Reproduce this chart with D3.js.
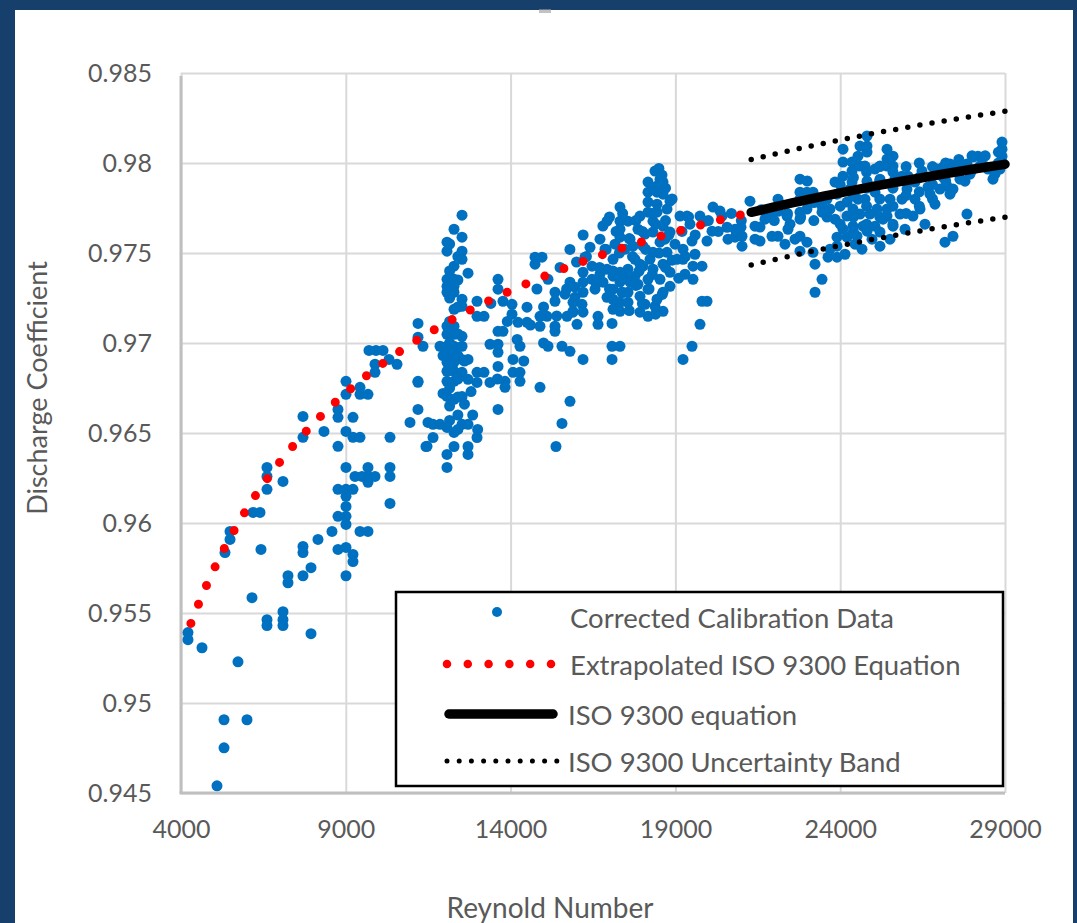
<!DOCTYPE html>
<html>
<head>
<meta charset="utf-8">
<script src="https://cdn.jsdelivr.net/npm/d3@7"></script>
<style>
  html, body { margin: 0; padding: 0; background: #173f6c; }
  svg { display: block; }
  text { font-family: Lato, "Open Sans", sans-serif; fill: #595959; }
</style>
</head>
<body>
<svg id="chart" width="1077" height="923"></svg>
<script>
// Axis ticks
const xTicks = [4000, 9000, 14000, 19000, 24000, 29000];
const yTicks = [0.945, 0.95, 0.955, 0.96, 0.965, 0.97, 0.975, 0.98, 0.985];

const xTitle = "Reynold Number";
const yTitle = "Discharge Coefficient";
const seriesNames = [
  "Corrected Calibration Data",
  "Extrapolated ISO 9300 Equation",
  "ISO 9300 equation",
  "ISO 9300 Uncertainty Band"
];

// Corrected calibration data: [Reynolds number, discharge coefficient]
const calibration = [
  [4212,0.95391],[4212,0.95352],[4637,0.95307],[5092,0.9454],[5305,0.94907],[6002,0.94907],[5305,0.94751],
  [5729,0.95229],[5335,0.95836],[5487,0.95909],[5487,0.95953],[6154,0.95585],[6184,0.96059],[6397,0.96059],
  [6427,0.95853],[6609,0.96309],[6609,0.96259],[6609,0.96187],[7094,0.96231],[6609,0.95463],[6609,0.9543],
  [7094,0.95507],[7094,0.95463],[7094,0.9543],[7246,0.95707],[7246,0.95668],[7701,0.95836],[7701,0.95707],
  [7944,0.95752],[7944,0.95385],[8763,0.95853],[9006,0.95864],[9006,0.95707],[9218,0.95825],[9218,0.95786],
  [7701,0.9587],[8156,0.95909],[8581,0.95953],[8763,0.96037],[9006,0.96037],[9006,0.95992],[9006,0.96092],
  [9006,0.96148],[8763,0.96187],[9006,0.96187],[9218,0.96187],[9006,0.96309],[9279,0.96259],[9491,0.96259],
  [9673,0.96309],[9673,0.96259],[9886,0.96259],[9673,0.96226],[10341,0.96309],[10341,0.96259],[10341,0.96109],
  [9431,0.95953],[9673,0.95953],[7701,0.96592],[7701,0.96476],[8338,0.96509],[8763,0.96631],[8763,0.96587],
  [8763,0.96426],[9006,0.96787],[9006,0.96715],[9006,0.96509],[9218,0.96587],[9218,0.96476],[9431,0.96476],
  [9431,0.96754],[9431,0.96715],[9673,0.96715],[9886,0.96882],[9886,0.96837],[10553,0.96882],[11190,0.96782],
  [11190,0.96631],[10948,0.96559],[11494,0.96559],[11464,0.96426],[10341,0.96476],[9704,0.96959],[9916,0.96959],
  [10129,0.96959],[10311,0.96909],
  [12526,0.9771],[12283,0.97632],[12070,0.9756],[12526,0.97588],[12070,0.9751],[12526,0.9751],[12283,0.97427],
  [12526,0.97465],[12708,0.97388],[12070,0.97354],[12283,0.97354],[12070,0.97315],[12283,0.97315],[12070,0.97282],
  [12283,0.97282],[12526,0.97243],[12283,0.97187],[12526,0.97204],[12981,0.97232],[12981,0.97148],[13193,0.97148],
  [12070,0.97093],[12283,0.97093],[12070,0.97048],[12283,0.97048],[12526,0.97037],[11858,0.96982],[12070,0.96982],
  [12283,0.96982],[12526,0.96982],[12070,0.96937],[12283,0.96937],[12070,0.96893],[12283,0.96893],[12526,0.96909],
  [12708,0.96909],[12070,0.96843],[12283,0.96843],[12526,0.96837],[12981,0.96837],[13193,0.96837],[12070,0.96787],
  [12283,0.96787],[12708,0.96798],[12981,0.96781],[13375,0.96781],[12070,0.96703],[12526,0.96703],[12283,0.96687],
  [11646,0.96548],[11858,0.96548],[12526,0.96548],[12708,0.96548],[12070,0.96531],[12283,0.96503],[12981,0.96475],
  [11646,0.96475],[11433,0.96425],[12283,0.96425],[12708,0.96425],[12070,0.96381],[12708,0.96381],[12070,0.96309],
  [11191,0.97109],[11191,0.97032],[11342,0.96982],[11191,0.96787],
  [12150,0.9740],[12400,0.9735],[12150,0.9725],[12400,0.9720],[12150,0.9712],[12400,0.9705],[12150,0.9700],
  [12400,0.9693],[12150,0.9688],[12400,0.9680],[12150,0.9675],[12400,0.9670],[12150,0.9665],[12400,0.9660],
  [12150,0.9657],[12400,0.9652],[12600,0.9666],[12600,0.9690],[11950,0.9693],[11950,0.9672],[12800,0.9673],
  [12850,0.9660],[13000,0.9652],[12150,0.9755],[12400,0.9748],
  [13618,0.97354],[13618,0.97299],[13769,0.97232],[14043,0.97215],[14043,0.9716],[14225,0.97115],[13769,0.97065],
  [13618,0.97065],[13375,0.96993],[13618,0.96993],[13618,0.96948],[14073,0.96909],[13618,0.9687],[14073,0.96837],
  [14285,0.96837],[14285,0.96787],[13830,0.96787],[13830,0.96754],[13618,0.96631],[14498,0.97199],[14498,0.97115],
  [14741,0.97477],[14741,0.97438],[14953,0.97477],[14892,0.97148],[14892,0.97093],[15104,0.97148],[15135,0.97354],
  [15347,0.97282],[15347,0.97232],[15347,0.97093],[15347,0.97065],[15135,0.96982],[14892,0.96754],[14285,0.96982],
  [15802,0.96676],[15559,0.96553],[15377,0.96425],[15559,0.96982],[15802,0.96954],[15711,0.97148],[16197,0.96909],
  [16015,0.97104],[15893,0.97171],[15893,0.97226],[16197,0.97282],
  [13400,0.9722],[13900,0.9712],[14200,0.9702],[14600,0.9710],[15000,0.9720],[15400,0.9715],[15700,0.9730],
  [14400,0.9690],[13600,0.9680],[15000,0.9700],[14800,0.9730],[15500,0.9742],[16000,0.9745],[15800,0.9752],
  [16300,0.9748],[16200,0.9760],
  [16258,0.97477],[16470,0.97427],[16197,0.97393],[16470,0.97354],[16197,0.97338],[15954,0.9731],[15954,0.97254],
  [16167,0.97215],[15893,0.97176],[16197,0.97171],[16652,0.97148],[16652,0.97104],[17077,0.97109],[17077,0.96982],
  [17077,0.96909],[17319,0.96982],[16925,0.97677],[17319,0.97755],[17319,0.97677],[17562,0.97677],[17319,0.97632],
  [17319,0.97588],[17107,0.97465],[16925,0.9741],[17107,0.97371],[16803,0.97338],[17319,0.97393],[17319,0.97338],
  [17107,0.97299],[17380,0.97282],[17623,0.97338],[16925,0.97254],[17107,0.97243],[17319,0.97226],[17107,0.97187],
  [17319,0.97176],[17562,0.97226],[17562,0.97282],[17562,0.9741],[17774,0.97371],[17774,0.97465],[17714,0.97538],
  [18017,0.97538],[18017,0.97427],[18169,0.97354],[18169,0.97299],[17926,0.9726],[17926,0.97171],[18169,0.97148],
  [18381,0.97204],[18624,0.97176],[17926,0.97705],[18169,0.97727],[18169,0.97838],[18169,0.97783],[18442,0.97872],
  [18624,0.97894],[18442,0.97838],[18624,0.97827],[18442,0.97771],[18745,0.97744],[18320,0.97677],[18320,0.97616],
  [18624,0.97649],[18836,0.97616],[18533,0.9756],[18320,0.97504],[18745,0.97504],[18624,0.97438],[18836,0.97393],
  [18320,0.9741],[18533,0.97354],[18836,0.97315],[18624,0.97282],[18442,0.97243],[19140,0.97705],[19352,0.97705],
  [19231,0.97521],[19049,0.97465],[19231,0.97465],[19504,0.97566],[19534,0.97427],[19807,0.97427],[19534,0.97354],
  [19746,0.97705],[19959,0.97566],[20141,0.97755],[20414,0.97705],[19807,0.97232],[19959,0.97232],[19746,0.97104],
  [19504,0.96982],[19231,0.96909],[18836,0.97788],[18442,0.97727],[18381,0.97955],[18594,0.97933],[18169,0.97894],
  [18533,0.9791],
  [16712,0.97577],[16864,0.97521],[16561,0.97299],[17471,0.97521],[17623,0.97577],[17865,0.97632],[18078,0.97605],
  [18229,0.97465],[17865,0.97326],[18078,0.97215],[18684,0.97577],[18988,0.97549],[19443,0.9766],[19595,0.97493],
  [19291,0.97382],[17926,0.97438],[17168,0.97549],[16712,0.97382],[16409,0.97532],[15802,0.97338],[15650,0.97271],
  [16800,0.9765],[17200,0.9762],[17600,0.9758],[18000,0.9762],[18400,0.9766],[18800,0.9760],[19200,0.9762],
  [16900,0.9752],[17300,0.9750],[17700,0.9748],[18100,0.9752],[18500,0.9750],[18900,0.9746],[19300,0.9748],
  [16700,0.9742],[17100,0.9740],[17500,0.9736],[17900,0.9740],[18300,0.9738],[18700,0.9742],[19100,0.9736],
  [16600,0.9733],[17000,0.9730],[17400,0.9728],[17800,0.9732],[18200,0.9730],[18600,0.9727],
  [17200,0.9720],[17600,0.9718],[18000,0.9722],[18400,0.9716],
  [17000,0.9770],[17400,0.9772],[17800,0.9768],[18300,0.9772],[18700,0.9768],[18900,0.9780],[18700,0.9786],
  [18300,0.9786],[18500,0.9797],
  [19600,0.9760],[20000,0.9768],[20300,0.9762],[19400,0.9770],[20700,0.9772],[21000,0.9768],
  [20566,0.97643],[20809,0.97632],[20990,0.97643],[20809,0.97588],[21021,0.97538],[21415,0.97577],[21415,0.97649],
  [21263,0.97788],[21021,0.97593],[20353,0.97733],[19898,0.97677],[20111,0.97621],[20596,0.97577],
  [21870,0.97716],[22113,0.97799],[22113,0.97732],[21931,0.97593],[22113,0.97593],[22386,0.97705],[22416,0.97632],
  [22780,0.9791],[22780,0.97838],[22780,0.97799],[22992,0.97838],[23175,0.97838],[22780,0.97727],[22780,0.97688],
  [22992,0.97744],[22780,0.97593],[22992,0.9756],[22780,0.9751],[23175,0.97504],[23236,0.97438],[23448,0.97354],
  [23236,0.97282],[23448,0.9776],[23448,0.97727],[23691,0.97744],[23691,0.97521],[23630,0.97477],[23903,0.97477],
  [23903,0.97588],[23903,0.97538],[23842,0.97688],[23842,0.97894],[23903,0.97827],[24085,0.98077],[24085,0.98005],
  [24085,0.97927],[24206,0.97783],[24206,0.97705],[24206,0.97588],[24085,0.97632],[24358,0.98005],[24358,0.97955],
  [24358,0.97894],[24388,0.97816],[24388,0.97744],[24388,0.97649],[24509,0.97593],[24540,0.98038],[24600,0.98094],
  [24600,0.97983],[24813,0.9815],[24813,0.98094],[24813,0.98061],[24752,0.97983],[24813,0.97899],[24752,0.97799],
  [24600,0.97716],[24691,0.97649],[24813,0.97621],[25056,0.97649],[25207,0.97616],[25207,0.97538],[25116,0.97744],
  [25056,0.97838],[25207,0.9791],[25207,0.97983],[25056,0.97966],[25420,0.98077],[25420,0.98022],[25420,0.97983],
  [25602,0.98038],[25602,0.97983],[25662,0.9791],[25511,0.97799],[25420,0.97744],[25420,0.97705],[25602,0.97649],
  [25298,0.97688],[25875,0.97799],[26026,0.97855],[25875,0.97927],[26056,0.97927],[26269,0.97894],[26269,0.97799],
  [26208,0.97705],[26481,0.97955],[26663,0.97866],[26724,0.97827],[26936,0.97966],[27118,0.97977],[27331,0.97994],
  [27118,0.97922],[27240,0.97872],[27331,0.97827],[27422,0.97855],[27574,0.97983],[27786,0.97899],[27846,0.97994],
  [28028,0.98033],[28180,0.98038],[28332,0.98033],[28241,0.97983],[28635,0.9791],[28909,0.98116],[28909,0.98077],
  [28909,0.98038],[28909,0.98005],[28848,0.97966],[27846,0.97716],[27422,0.97593],[27179,0.9756],
  [21567,0.97644],[21718,0.97688],[22477,0.9766],[22629,0.97577],[22325,0.97549],[21567,0.97566],
  [24904,0.97716],[24965,0.97577],[25511,0.97577],[25814,0.97716],[25966,0.97632],[26421,0.97744],[26572,0.9766],
  [26876,0.97771],[27027,0.97855],[27634,0.9791],[27937,0.97938],[28483,0.97966],[28696,0.97938],[24449,0.97549],
  [24146,0.97493],[24661,0.97521],[24297,0.97855],[24540,0.97799],
  [23600,0.9780],[23600,0.9770],[24000,0.9788],[24000,0.9776],[24000,0.9766],[24400,0.9792],[24400,0.9782],
  [24400,0.9770],[24400,0.9762],[24800,0.9795],[24800,0.9786],[24800,0.9776],[24800,0.9766],[25200,0.9798],
  [25200,0.9790],[25200,0.9780],[25200,0.9770],[25600,0.9795],[25600,0.9786],[25600,0.9776],[25600,0.9766],
  [26000,0.9798],[26000,0.9790],[26000,0.9782],[26000,0.9772],[26400,0.9800],[26400,0.9792],[26400,0.9784],
  [26400,0.9776],[26800,0.9798],[26800,0.9788],[26800,0.9780],[27200,0.9800],[27200,0.9790],[27600,0.9802],
  [27600,0.9794],[28000,0.9804],[28000,0.9796],[28400,0.9804],[28400,0.9798],[28800,0.9806],[28800,0.9800],
  [23200,0.9778],[23200,0.9768],[22800,0.9770],[22400,0.9772],[22000,0.9768],[21600,0.9774],[23000,0.9790]
];

// ISO 9300 curve, extrapolated below its validity range
const extrapolatedRe = [4300, 4600, 5000, 5500, 6000, 6500, 7000, 8000, 9000, 10000, 11000,
  12000, 13000, 14000, 15000, 16000, 17000, 18000, 19000, 20000, 21300];
const extrapolatedCd = [0.95442, 0.95580, 0.95743, 0.95922, 0.96079, 0.96216, 0.96339, 0.96549, 0.96723,
  0.96870, 0.96997, 0.97107, 0.97204, 0.97291, 0.97369, 0.97440, 0.97504, 0.97563, 0.97617, 0.97667, 0.97726];

// ISO 9300 curve within its range, with its uncertainty band
const isoRe = [21300, 22000, 23000, 24000, 25000, 26000, 27000, 28000, 29000];
const isoCd = [0.97726, 0.97756, 0.97797, 0.97834, 0.97870, 0.97903, 0.97935, 0.97965, 0.97993];
const bandUpper = [0.98019, 0.98049, 0.98090, 0.98128, 0.98164, 0.98197, 0.98229, 0.98259, 0.98287];
const bandLower = [0.97433, 0.97463, 0.97504, 0.97541, 0.97576, 0.97609, 0.97641, 0.97671, 0.97699];

const W = 1077, H = 923;
const plot = { left: 181, right: 1005, top: 73, bottom: 793 };
const markerR = 5.5;

const svg = d3.select("#chart");

// navy frame with white panel
svg.append("rect").attr("x", 0).attr("y", 0).attr("width", W).attr("height", H).attr("fill", "#173f6c");
svg.append("rect").attr("x", 15).attr("y", 10).attr("width", 1058).attr("height", H - 10).attr("fill", "#ffffff");
// remnant of a clipped heading at the top edge
svg.append("rect").attr("x", 539).attr("y", 9).attr("width", 12).attr("height", 4)
  .attr("fill", "#9a9a9a").attr("opacity", 0.6);

const x = d3.scaleLinear().domain([4000, 29000]).range([plot.left, plot.right]);
const y = d3.scaleLinear().domain([0.945, 0.985]).range([plot.bottom, plot.top]);

// gridlines + tick labels
const yAxis = svg.append("g").attr("transform", `translate(${plot.left},0)`)
  .call(d3.axisLeft(y).tickValues(yTicks).tickSize(-(plot.right - plot.left)).tickPadding(29)
    .tickFormat(d => String(d)));
const xAxis = svg.append("g").attr("transform", `translate(0,${plot.bottom})`)
  .call(d3.axisBottom(x).tickValues(xTicks).tickSize(-(plot.bottom - plot.top)).tickPadding(27)
    .tickFormat(d => String(d)));
[yAxis, xAxis].forEach(g => {
  g.select(".domain").remove();
  g.selectAll(".tick line").attr("stroke", "#d9d9d9").attr("stroke-width", 2);
  g.selectAll(".tick text").attr("fill", "#595959").style("font-family", "Lato, 'Open Sans', sans-serif")
    .style("font-size", "25px");
});

// axis lines
svg.append("line").attr("x1", plot.left).attr("x2", plot.left).attr("y1", plot.top + 3).attr("y2", plot.bottom)
  .attr("stroke", "#bfbfbf").attr("stroke-width", 3);
svg.append("line").attr("x1", plot.left - 1.5).attr("x2", plot.right).attr("y1", plot.bottom).attr("y2", plot.bottom)
  .attr("stroke", "#bfbfbf").attr("stroke-width", 3);

// axis titles
svg.append("text").attr("x", 550).attr("y", 907).attr("text-anchor", "middle").attr("dominant-baseline", "central")
  .style("font-size", "28px").text(xTitle);
svg.append("text").attr("transform", "translate(36,388) rotate(-90)").attr("text-anchor", "middle")
  .attr("dominant-baseline", "central").style("font-size", "27px").text(yTitle);

// calibration scatter
svg.append("g").selectAll("circle").data(calibration).join("circle")
  .attr("cx", d => x(d[0])).attr("cy", d => y(d[1])).attr("r", markerR).attr("fill", "#0070c0");

const line = d3.line().x(d => x(d[0])).y(d => y(d[1])).curve(d3.curveMonotoneX);

// extrapolated ISO curve (round dots)
svg.append("path").datum(extrapolatedRe.map((r, i) => [r, extrapolatedCd[i]]))
  .attr("d", line).attr("fill", "none").attr("stroke", "#ff0000").attr("stroke-width", 9)
  .attr("stroke-linecap", "round").attr("stroke-dasharray", "0 20.5");

// ISO curve
svg.append("path").datum(isoRe.map((r, i) => [r, isoCd[i]]))
  .attr("d", line).attr("fill", "none").attr("stroke", "#000000").attr("stroke-width", 9.5)
  .attr("stroke-linecap", "round");

// uncertainty band
[bandUpper, bandLower].forEach(band => {
  svg.append("path").datum(isoRe.map((r, i) => [r, band[i]]))
    .attr("d", line).attr("fill", "none").attr("stroke", "#000000").attr("stroke-width", 5.5)
    .attr("stroke-linecap", "round").attr("stroke-dasharray", "0 12.3");
});

// legend
const lg = svg.append("g");
lg.append("rect").attr("x", 396).attr("y", 592).attr("width", 607).attr("height", 194)
  .attr("fill", "#ffffff").attr("stroke", "#000000").attr("stroke-width", 2.5);
const rows = [612, 664, 714, 761];
lg.append("circle").attr("cx", 497).attr("cy", rows[0]).attr("r", 5).attr("fill", "#0070c0");
lg.append("line").attr("x1", 447).attr("x2", 552).attr("y1", rows[1]).attr("y2", rows[1])
  .attr("stroke", "#ff0000").attr("stroke-width", 8.5).attr("stroke-linecap", "round").attr("stroke-dasharray", "0 20.8");
lg.append("line").attr("x1", 449).attr("x2", 553).attr("y1", rows[2]).attr("y2", rows[2])
  .attr("stroke", "#000000").attr("stroke-width", 9.5).attr("stroke-linecap", "round");
lg.append("line").attr("x1", 447).attr("x2", 557).attr("y1", rows[3]).attr("y2", rows[3])
  .attr("stroke", "#000000").attr("stroke-width", 5).attr("stroke-linecap", "round").attr("stroke-dasharray", "0 12.2");
const textY = [617, 664, 714, 761];
const textX = [570, 570, 568, 568];
seriesNames.forEach((name, i) => {
  lg.append("text").attr("x", textX[i]).attr("y", textY[i]).attr("dominant-baseline", "central")
    .style("font-size", "27.5px").text(name);
});
</script>
</body>
</html>
